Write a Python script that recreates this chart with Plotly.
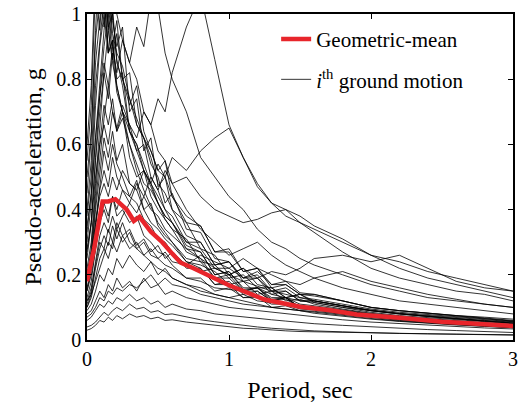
import plotly.graph_objects as go

# Period grid (sec) for the individual ground motions
periods = [0.0, 0.03, 0.06, 0.09, 0.12, 0.15, 0.18, 0.21, 0.25, 0.3, 0.35, 0.4, 0.45, 0.5, 0.55, 0.6,
           0.7, 0.8, 0.9, 1.0, 1.1, 1.2, 1.3, 1.4, 1.5, 1.6, 1.8, 2.0, 2.2, 2.4, 2.6, 2.8, 3.0]

gm01 = [0.45,0.62,0.95,1.20,1.05,1.25,0.98,0.90,0.96,0.70,0.74,0.58,0.62,0.47,0.50,0.40,0.36,0.28,0.26,0.20,0.22,0.17,0.16,0.13,0.14,0.115,0.10,0.085,0.075,0.068,0.062,0.056,0.05]
gm02 = [0.38,0.50,0.78,0.92,1.05,0.88,1.02,0.85,0.80,0.82,0.66,0.62,0.54,0.50,0.42,0.45,0.34,0.33,0.25,0.24,0.19,0.20,0.15,0.16,0.13,0.125,0.11,0.095,0.085,0.078,0.07,0.064,0.058]
gm03 = [0.30,0.42,0.62,0.80,0.95,1.08,0.90,0.98,0.80,0.72,0.78,0.64,0.58,0.52,0.55,0.44,0.38,0.35,0.27,0.28,0.21,0.22,0.16,0.17,0.14,0.135,0.12,0.10,0.09,0.082,0.075,0.07,0.064]
gm04 = [0.55,0.72,1.08,0.95,1.15,0.88,0.92,0.80,0.82,0.64,0.60,0.52,0.48,0.42,0.38,0.36,0.28,0.27,0.20,0.21,0.16,0.16,0.12,0.13,0.10,0.10,0.088,0.075,0.066,0.06,0.054,0.049,0.044]
gm05 = [0.25,0.36,0.55,0.70,0.82,0.74,0.88,0.76,0.70,0.66,0.58,0.60,0.50,0.46,0.40,0.38,0.30,0.30,0.23,0.24,0.19,0.19,0.15,0.15,0.12,0.12,0.105,0.092,0.082,0.075,0.068,0.062,0.056]
gm06 = [0.20,0.28,0.45,0.60,0.72,0.66,0.74,0.64,0.70,0.56,0.50,0.52,0.44,0.40,0.37,0.34,0.31,0.24,0.23,0.19,0.20,0.16,0.16,0.13,0.14,0.12,0.105,0.09,0.08,0.072,0.066,0.06,0.055]
gm07 = [0.18,0.25,0.40,0.52,0.62,0.56,0.64,0.55,0.60,0.48,0.46,0.40,0.42,0.35,0.32,0.30,0.25,0.24,0.19,0.19,0.15,0.16,0.13,0.13,0.11,0.105,0.092,0.08,0.07,0.064,0.058,0.052,0.047]
gm08 = [0.15,0.22,0.34,0.46,0.52,0.47,0.56,0.50,0.46,0.44,0.49,0.40,0.36,0.34,0.31,0.29,0.24,0.23,0.21,0.17,0.18,0.14,0.15,0.12,0.125,0.11,0.095,0.082,0.072,0.065,0.058,0.052,0.047]
gm09 = [0.06,0.07,0.09,0.11,0.10,0.12,0.11,0.13,0.12,0.14,0.12,0.13,0.11,0.12,0.10,0.11,0.095,0.09,0.08,0.075,0.07,0.066,0.062,0.058,0.054,0.05,0.045,0.04,0.036,0.032,0.029,0.026,0.023]
gm10 = [0.08,0.09,0.12,0.15,0.13,0.17,0.15,0.19,0.16,0.18,0.15,0.19,0.16,0.17,0.14,0.15,0.13,0.12,0.11,0.10,0.095,0.09,0.085,0.08,0.075,0.07,0.062,0.055,0.05,0.045,0.041,0.037,0.034]
gm11 = [0.03,0.035,0.045,0.06,0.055,0.07,0.06,0.075,0.065,0.08,0.07,0.075,0.065,0.07,0.06,0.062,0.055,0.05,0.045,0.04,0.036,0.034,0.03,0.028,0.026,0.025,0.023,0.021,0.02,0.019,0.018,0.017,0.016]
gm12 = [0.35,0.45,0.62,0.75,0.85,0.78,0.90,0.82,0.92,0.85,0.96,0.90,1.05,1.02,0.88,0.80,0.70,0.56,0.50,0.44,0.40,0.34,0.30,0.28,0.25,0.23,0.20,0.17,0.15,0.13,0.12,0.11,0.10]
gm13 = [0.28,0.36,0.50,0.60,0.66,0.60,0.70,0.65,0.72,0.66,0.62,0.70,0.66,0.74,0.70,0.82,0.96,1.06,0.86,0.66,0.56,0.47,0.42,0.38,0.36,0.33,0.27,0.22,0.19,0.17,0.15,0.14,0.12]
gm14 = [0.20,0.26,0.36,0.44,0.48,0.44,0.50,0.46,0.52,0.48,0.46,0.52,0.48,0.54,0.50,0.56,0.52,0.58,0.62,0.65,0.56,0.48,0.42,0.40,0.36,0.34,0.30,0.26,0.24,0.21,0.19,0.17,0.15]
gm15 = [0.15,0.20,0.28,0.36,0.40,0.36,0.44,0.40,0.46,0.42,0.48,0.44,0.50,0.46,0.52,0.48,0.50,0.44,0.40,0.38,0.36,0.37,0.39,0.40,0.38,0.35,0.31,0.26,0.22,0.19,0.17,0.15,0.13]
gm16 = [0.10,0.13,0.19,0.25,0.28,0.25,0.30,0.27,0.32,0.28,0.30,0.26,0.28,0.25,0.27,0.24,0.23,0.21,0.22,0.20,0.22,0.19,0.21,0.20,0.22,0.25,0.26,0.24,0.26,0.22,0.18,0.16,0.15]
gm17 = [0.12,0.16,0.23,0.30,0.28,0.34,0.30,0.36,0.32,0.34,0.29,0.31,0.27,0.29,0.25,0.27,0.23,0.26,0.24,0.22,0.25,0.22,0.20,0.18,0.17,0.19,0.21,0.18,0.16,0.14,0.125,0.11,0.10]
gm18 = [0.22,0.30,0.48,0.66,0.82,0.95,1.10,1.00,0.92,0.85,0.80,0.70,0.66,0.58,0.55,0.48,0.40,0.34,0.30,0.26,0.28,0.30,0.26,0.23,0.21,0.19,0.16,0.14,0.12,0.11,0.10,0.09,0.08]
gm19 = [0.16,0.22,0.36,0.48,0.58,0.52,0.60,0.54,0.50,0.44,0.42,0.37,0.35,0.31,0.30,0.27,0.22,0.22,0.17,0.18,0.14,0.15,0.12,0.125,0.10,0.10,0.088,0.076,0.066,0.06,0.054,0.048,0.043]
gm20 = [0.13,0.18,0.28,0.36,0.42,0.38,0.44,0.38,0.40,0.36,0.38,0.32,0.30,0.27,0.26,0.23,0.19,0.19,0.15,0.16,0.13,0.13,0.11,0.11,0.095,0.092,0.08,0.07,0.062,0.056,0.05,0.046,0.042]
gm21 = [0.10,0.14,0.22,0.28,0.32,0.29,0.35,0.31,0.36,0.30,0.28,0.26,0.24,0.22,0.21,0.19,0.17,0.15,0.14,0.13,0.12,0.11,0.10,0.095,0.09,0.082,0.072,0.064,0.057,0.051,0.046,0.042,0.038]
gm22 = [0.09,0.11,0.15,0.20,0.18,0.22,0.20,0.25,0.22,0.26,0.23,0.21,0.24,0.20,0.22,0.19,0.17,0.16,0.14,0.13,0.14,0.12,0.115,0.11,0.10,0.095,0.085,0.074,0.066,0.06,0.054,0.049,0.045]
gm23 = [0.40,0.55,0.85,1.00,1.12,0.96,1.00,0.86,0.78,0.64,0.58,0.52,0.47,0.42,0.37,0.34,0.27,0.25,0.19,0.20,0.15,0.15,0.12,0.13,0.10,0.10,0.088,0.075,0.066,0.059,0.053,0.048,0.043]
gm24 = [0.50,0.64,0.92,1.05,0.96,1.10,0.94,0.88,0.84,0.74,0.66,0.62,0.56,0.48,0.45,0.40,0.32,0.30,0.23,0.24,0.18,0.19,0.14,0.15,0.12,0.12,0.105,0.09,0.08,0.072,0.065,0.058,0.052]
gm25 = [0.60,0.78,1.15,1.05,1.20,0.95,0.85,0.78,0.70,0.60,0.52,0.46,0.41,0.36,0.33,0.30,0.24,0.22,0.17,0.17,0.13,0.135,0.10,0.105,0.09,0.088,0.078,0.068,0.06,0.054,0.048,0.043,0.038]
gm26 = [0.07,0.08,0.10,0.13,0.12,0.15,0.14,0.16,0.15,0.17,0.16,0.18,0.20,0.17,0.19,0.17,0.16,0.14,0.13,0.12,0.11,0.105,0.10,0.095,0.09,0.085,0.075,0.066,0.058,0.052,0.047,0.042,0.038]
gm27 = [0.27,0.36,0.56,0.75,0.90,1.00,0.86,0.94,0.80,0.74,0.68,0.62,0.58,0.52,0.50,0.44,0.36,0.35,0.27,0.27,0.21,0.22,0.17,0.18,0.145,0.14,0.12,0.10,0.09,0.082,0.074,0.067,0.06]
gm28 = [0.12,0.14,0.18,0.22,0.26,0.30,0.28,0.34,0.38,0.42,0.39,0.44,0.40,0.38,0.34,0.32,0.28,0.25,0.22,0.20,0.18,0.165,0.15,0.14,0.13,0.12,0.105,0.09,0.08,0.072,0.065,0.058,0.052]
gm29 = [0.04,0.045,0.055,0.07,0.085,0.075,0.09,0.10,0.09,0.11,0.095,0.10,0.085,0.09,0.078,0.08,0.07,0.062,0.056,0.05,0.045,0.04,0.036,0.033,0.03,0.028,0.025,0.022,0.02,0.019,0.017,0.016,0.015]
gm30 = [0.33,0.45,0.72,0.90,1.00,0.88,0.92,0.78,0.70,0.64,0.60,0.54,0.48,0.44,0.40,0.36,0.29,0.27,0.20,0.21,0.155,0.16,0.125,0.13,0.10,0.10,0.09,0.078,0.068,0.061,0.055,0.05,0.046]
gm31 = [0.20,0.26,0.42,0.56,0.68,0.78,0.70,0.64,0.68,0.60,0.54,0.48,0.46,0.42,0.38,0.36,0.30,0.28,0.22,0.22,0.19,0.21,0.17,0.17,0.14,0.14,0.12,0.10,0.09,0.082,0.074,0.066,0.058]
gm32 = [0.11,0.15,0.24,0.32,0.36,0.33,0.38,0.34,0.30,0.33,0.28,0.30,0.26,0.25,0.23,0.22,0.19,0.18,0.16,0.155,0.15,0.16,0.14,0.13,0.12,0.115,0.10,0.09,0.08,0.072,0.065,0.058,0.052]

ground_motions = [gm01, gm02, gm03, gm04, gm05, gm06, gm07, gm08, gm09, gm10, gm11, gm12, gm13, gm14, gm15, gm16,
                  gm17, gm18, gm19, gm20, gm21, gm22, gm23, gm24, gm25, gm26, gm27, gm28, gm29, gm30, gm31, gm32]

# Geometric-mean spectrum
mean_periods = [0.0, 0.05, 0.11, 0.15, 0.2, 0.28, 0.33, 0.37, 0.45, 0.53, 0.6, 0.66, 0.75, 0.9, 1.0,
                1.25, 1.5, 1.7, 1.9, 2.2, 2.5, 3.0]
mean_sa = [0.18, 0.28, 0.425, 0.425, 0.432, 0.40, 0.365, 0.378, 0.332, 0.30, 0.265, 0.237, 0.22, 0.19, 0.168,
           0.124, 0.102, 0.092, 0.078, 0.068, 0.056, 0.043]

x_ticks = [0, 1, 2, 3]
y_ticks = [0, 0.2, 0.4, 0.6, 0.8, 1.0]
y_tick_labels = ["0", "0.2", "0.4", "0.6", "0.8", "1"]

FONT = "Liberation Serif"

fig = go.Figure()
for i, sa in enumerate(ground_motions):
    fig.add_trace(go.Scatter(
        x=periods, y=sa, mode="lines",
        line=dict(color="black", width=0.8),
        name="<i>i</i><sup>th</sup> ground motion",
        legendgroup="gm", showlegend=(i == 0), legendrank=2,
        hoverinfo="skip",
    ))

fig.add_trace(go.Scatter(
    x=mean_periods, y=mean_sa, mode="lines",
    line=dict(color="#e8252b", width=4.5),
    name="Geometric-mean", legendgroup="mean", legendrank=1,
))

fig.update_layout(
    width=519, height=403,
    margin=dict(l=87, r=1, t=14, b=63),
    paper_bgcolor="white", plot_bgcolor="white",
    font=dict(family=FONT, size=20, color="black"),
    legend=dict(
        x=0.444, y=0.985, xanchor="left", yanchor="top",
        bgcolor="rgba(0,0,0,0)", borderwidth=0,
        font=dict(family=FONT, size=21, color="black"),
        traceorder="grouped", tracegroupgap=10,
    ),
    xaxis=dict(
        range=[0, 3], tickvals=x_ticks, ticktext=[str(v) for v in x_ticks],
        ticks="inside", ticklen=5, tickwidth=1, tickcolor="black",
        showline=True, linecolor="black", linewidth=1.5, mirror="ticks",
        showgrid=False, zeroline=False, ticklabeloverflow="allow",
        title=dict(text="Period, sec", font=dict(family=FONT, size=24), standoff=13),
        tickfont=dict(family=FONT, size=20),
    ),
    yaxis=dict(
        range=[0, 1], tickvals=y_ticks, ticktext=y_tick_labels,
        ticks="inside", ticklen=5, tickwidth=1, tickcolor="black",
        showline=True, linecolor="black", linewidth=1.5, mirror="ticks",
        showgrid=False, zeroline=False,
        title=dict(text="Pseudo-acceleration, g", font=dict(family=FONT, size=24), standoff=8),
        tickfont=dict(family=FONT, size=20),
    ),
)

fig.write_html("out.html")
